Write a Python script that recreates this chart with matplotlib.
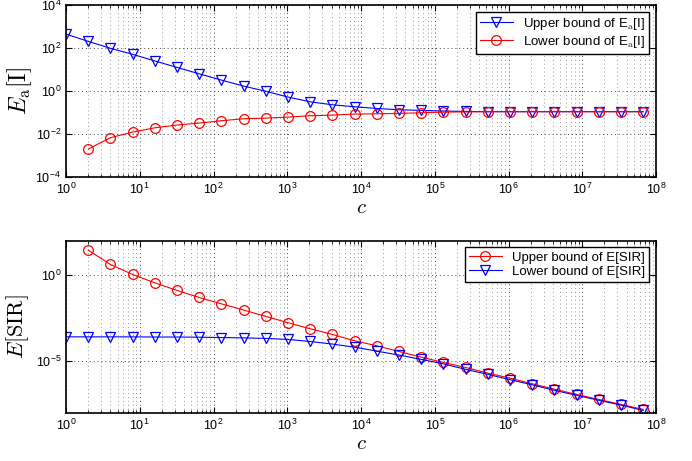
import matplotlib
matplotlib.use('Agg')
import matplotlib.pyplot as plt
import numpy as np

plt.rcParams['font.family'] = ['Liberation Sans', 'DejaVu Sans']
plt.rcParams['mathtext.fontset'] = 'cm'

# c = 2^k, k = 0..26
c_all = [2.0 ** k for k in range(27)]

# top panel: log10 of E_a[I] bounds
ea_upper_log = [2.65, 2.31, 1.99, 1.71, 1.40, 1.10, 0.80, 0.51, 0.23, -0.01,
                -0.28, -0.50, -0.64, -0.73, -0.81, -0.87, -0.90, -0.93, -0.95,
                -0.96, -0.96, -0.96, -0.96, -0.96, -0.96, -0.96, -0.96]
ea_lower_log = [-2.70, -2.17, -1.91, -1.71, -1.58, -1.49, -1.38, -1.29, -1.26,
                -1.21, -1.15, -1.12, -1.07, -1.06, -1.04, -1.01, -0.98, -0.97,
                -0.96, -0.96, -0.96, -0.96, -0.96, -0.96, -0.96, -0.96]

# bottom panel: log10 of E[SIR] bounds
sir_upper_log = [1.45, 0.62, 0.04, -0.45, -0.89, -1.30, -1.67, -2.03, -2.40,
                 -2.77, -3.12, -3.45, -3.82, -4.11, -4.44, -4.77, -5.08, -5.37,
                 -5.70, -5.99, -6.32, -6.63, -6.94, -7.23, -7.52, -7.81]
sir_lower_log = [-3.59, -3.59, -3.59, -3.59, -3.60, -3.60, -3.61, -3.63, -3.65,
                 -3.68, -3.74, -3.86, -4.01, -4.19, -4.42, -4.65, -4.90, -5.16,
                 -5.48, -5.77, -6.08, -6.38, -6.70, -6.99, -7.28, -7.56, -7.87]

ea_upper = [10 ** v for v in ea_upper_log]
ea_lower = [10 ** v for v in ea_lower_log]
sir_upper = [10 ** v for v in sir_upper_log]
sir_lower = [10 ** v for v in sir_lower_log]

fig = plt.figure(figsize=(6.92, 4.61), dpi=100)
ax1 = fig.add_axes([0.0954, 0.616, 0.8526, 0.373])
ax2 = fig.add_axes([0.0954, 0.1048, 0.8526, 0.373])

mk = dict(markersize=7, markerfacecolor='none', linewidth=0.8, markeredgewidth=0.9)

ax1.plot(c_all, ea_upper, '-v', color='blue', label=r'Upper bound of E$_\mathrm{a}$[I]', **mk)
ax1.plot(c_all[1:], ea_lower, '-o', color='red', label=r'Lower bound of E$_\mathrm{a}$[I]', **mk)

ax2.plot(c_all[1:], sir_upper, '-o', color='red', label='Upper bound of E[SIR]', **mk)
ax2.plot(c_all, sir_lower, '-v', color='blue', label='Lower bound of E[SIR]', **mk)

for ax in (ax1, ax2):
    ax.set_xscale('log')
    ax.set_yscale('log')
    ax.set_xlim(1, 1e8)
    ax.set_xticks([10.0 ** k for k in range(9)])
    ax.xaxis.set_minor_locator(matplotlib.ticker.LogLocator(base=10, subs=np.arange(2, 10), numticks=20))
    ax.tick_params(which='both', direction='in', top=True, right=True, labelsize=9)
    ax.tick_params(which='major', length=4, width=0.8)
    ax.tick_params(which='minor', length=2, width=0.6)
    ax.yaxis.set_minor_locator(matplotlib.ticker.NullLocator())
    ax.grid(True, which='major', axis='both', linestyle=(0, (1, 3)), color='#444444', linewidth=0.7)
    ax.grid(True, which='minor', axis='x', linestyle=(0, (1, 3)), color='#999999', linewidth=0.7)
    for s in ax.spines.values():
        s.set_linewidth(1.2)
    ax.set_xlabel(r'$c$', fontsize=15, labelpad=1)

ax1.set_ylim(1e-4, 1e4)
ax1.set_yticks([1e-4, 1e-2, 1e0, 1e2, 1e4])
ax1.set_ylabel(r'$E_{\mathrm{a}}[\mathrm{I}]$', fontsize=17, labelpad=1)

ax2.set_ylim(1e-8, 1e2)
ax2.set_yticks([1e-5, 1e0])
ax2.set_ylabel(r'$E[\mathrm{SIR}]$', fontsize=16, labelpad=3)

for ax in (ax1, ax2):
    leg = ax.legend(loc='upper right', fontsize=9.5, fancybox=False, edgecolor='black',
                    framealpha=1, borderaxespad=0.5, handlelength=2.5,
                    borderpad=0.3, labelspacing=0.15)
    leg.get_frame().set_linewidth(1.0)

fig.savefig('out.png', dpi=100)
